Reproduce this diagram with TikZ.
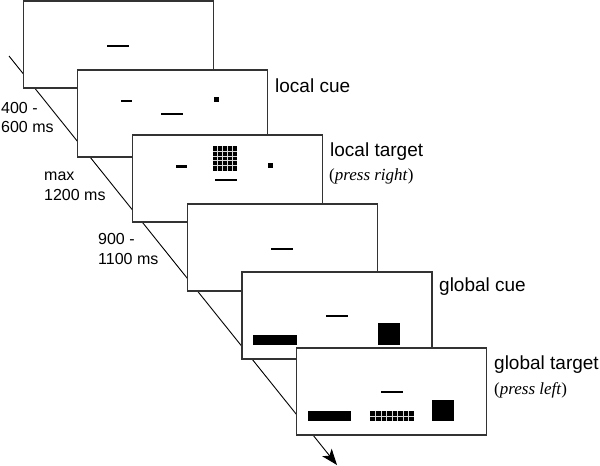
\documentclass[tikz,border=0pt]{standalone}
\usepackage{fontspec}
\setmainfont{Liberation Sans}
\newfontfamily\seriffont{Liberation Serif}
\usetikzlibrary{arrows.meta}

\tikzset{
  screen/.style={draw=black!80, fill=white, line width=1.2pt, inner sep=0pt,
    minimum width=190pt, minimum height=87pt},
  timeline/.style={line width=0.9pt, -{Stealth[length=16pt,width=12pt,inset=4pt]}},
  phase/.style={anchor=base west, inner sep=0pt, font=\fontsize{19}{22}\selectfont},
  response/.style={anchor=base west, inner sep=0pt, font=\fontsize{17}{20}\seriffont},
  delay/.style={anchor=base west, inner sep=0pt, align=left,
    font=\fontsize{16}{19.5}\selectfont},
  gridline/.style={white!70!gray, line width=0.6pt}
}

\begin{document}
\begin{tikzpicture}[x=1pt, y=-1pt]
\useasboundingbox (0,0) rectangle (600,466);

% time axis behind the screens
\coordinate (t0) at (9,56);
\coordinate (t1) at (337,465);
\draw[timeline] (t0) -- (t1);

% fixation
\node[screen] (fix1) at (118.5,44.5) {};
\fill (107,45) rectangle (129,47);

% local cue
\node[screen] (lcue) at (172.5,113.5) {};
\fill (121,99.5) rectangle (132,102);
\fill (160.5,113) rectangle (182.5,115);
\fill (213.5,97) rectangle (218.5,102);

% local target
\node[screen] (ltarget) at (227.5,178.5) {};
\fill (175.5,165) rectangle (187,167.5);
\fill (212.5,146) rectangle (237,170.5);
\foreach \i in {1,...,4} {
  \draw[gridline] (212.5+4.9*\i,146) -- (212.5+4.9*\i,170.5);
  \draw[gridline] (212.5,146+4.9*\i) -- (237,146+4.9*\i);
}
\fill (215,179) rectangle (237,181);
\fill (268,162.5) rectangle (273,167.5);

% fixation
\node[screen] (fix2) at (282.5,247.5) {};
\fill (271.3,248.3) rectangle (293.3,250.3);

% global cue
\node[screen] (gcue) at (337,315.5) {};
\fill (325.7,314.7) rectangle (347.7,316.7);
\fill (253.3,334.7) rectangle (296.7,345);
\fill (378,323.3) rectangle (399.7,344.7);

% global target
\node[screen] (gtarget) at (391.5,391.5) {};
\fill (380.7,391.3) rectangle (402.7,393.3);
\fill (307.7,411) rectangle (351.3,421);
\fill (369.7,411) rectangle (414.3,421);
\foreach \i in {1,...,7}
  \draw[gridline] (369.7+5.575*\i,411) -- (369.7+5.575*\i,421);
\draw[gridline] (369.7,416) -- (414.3,416);
\fill (432,400.3) rectangle (453.7,421);

% labels
\node[phase] (lcuetxt) at (275,92) {local cue};
\node[phase] (ltargettxt) at (330,156) {local target};
\node[response] (rightkey) at (329,180) {(\textit{press right})};
\node[phase] (gcuetxt) at (439,291) {global cue};
\node[phase] (gtargettxt) at (494,369) {global target};
\node[response] (leftkey) at (494,394) {(\textit{press left})};

% delays (base = last line)
\node[delay] (d1) at (1,132.7) {400 -{}\\600 ms};
\node[delay] (d2) at (44,200) {max\\1200 ms};
\node[delay] (d3) at (98,264.3) {900 -{}\\1100 ms};
\end{tikzpicture}
\end{document}
